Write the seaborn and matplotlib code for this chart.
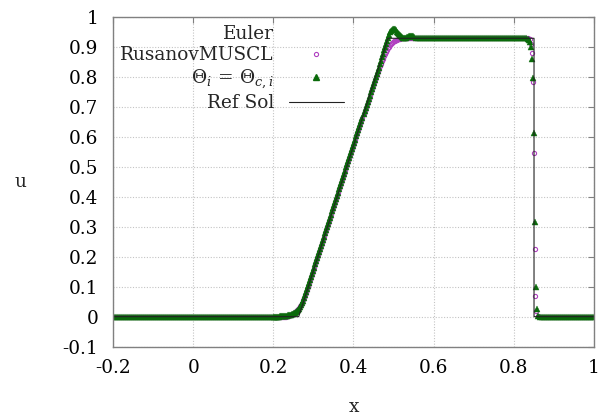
import numpy as np
import pandas as pd
import matplotlib
matplotlib.use("Agg")
import matplotlib.pyplot as plt
from matplotlib.lines import Line2D
import seaborn as sns

# Sod shock tube, velocity u(x) at t = 0.2
# mesh pieces (cell centres) used for the numerical solutions
x_left = np.linspace(-0.2, 0.2, 81)        # step 0.005
x_ramp = np.linspace(0.2025, 0.55, 140)    # step 0.0025
x_plateau = np.linspace(0.555, 0.83, 56)   # step 0.005
x_right = np.linspace(0.865, 1.0, 28)

# u on the left constant state
u_left_state = [0.0] * 81

# rarefaction + head of plateau (0.2025 .. 0.55)
theta_ramp = [0.000, 0.000, 0.000, 0.000, 0.000, 0.000, 0.001, 0.001, 0.001, 0.001,
              0.002, 0.002, 0.003, 0.003, 0.004, 0.004, 0.005, 0.006, 0.008, 0.009,
              0.011, 0.013, 0.016, 0.019, 0.023, 0.027, 0.032, 0.038, 0.045, 0.053,
              0.062, 0.071, 0.081, 0.091, 0.101, 0.112,
              0.122, 0.132, 0.143, 0.153, 0.163, 0.174, 0.184, 0.195, 0.205, 0.215,
              0.226, 0.236, 0.247, 0.257, 0.267, 0.278, 0.288, 0.299, 0.309, 0.320,
              0.330, 0.340, 0.351, 0.361, 0.372, 0.382, 0.392, 0.403, 0.413, 0.424,
              0.434, 0.445, 0.455, 0.465, 0.476, 0.486, 0.497, 0.507, 0.517, 0.528,
              0.538, 0.549, 0.559, 0.570, 0.580, 0.590, 0.601, 0.611, 0.622, 0.632,
              0.642, 0.653, 0.663, 0.674, 0.684, 0.695, 0.705, 0.715, 0.726, 0.736,
              0.747, 0.757, 0.767, 0.778, 0.788, 0.799, 0.809, 0.820, 0.830,
              0.842, 0.853, 0.864, 0.876, 0.887, 0.898, 0.909, 0.920, 0.930, 0.939,
              0.947, 0.952, 0.956, 0.958, 0.958, 0.957, 0.954, 0.950, 0.946, 0.941,
              0.937, 0.934, 0.931, 0.930, 0.929, 0.929, 0.930, 0.931, 0.933, 0.934,
              0.935, 0.935, 0.935, 0.934, 0.933]
rus_ramp = [0.000, 0.000, 0.000, -0.001, -0.001, -0.001, -0.002, -0.002, -0.002, -0.002,
            -0.002, -0.001, -0.001, 0.001, 0.002, 0.003, 0.004, 0.006, 0.008, 0.010,
            0.012, 0.015, 0.018, 0.021, 0.025, 0.029, 0.034, 0.040, 0.047, 0.054,
            0.062, 0.071, 0.080, 0.090, 0.100, 0.110,
            0.122, 0.132, 0.143, 0.153, 0.163, 0.174, 0.184, 0.195, 0.205, 0.215,
            0.226, 0.236, 0.247, 0.257, 0.267, 0.278, 0.288, 0.299, 0.309, 0.320,
            0.330, 0.340, 0.351, 0.361, 0.372, 0.382, 0.392, 0.403, 0.413, 0.424,
            0.434, 0.445, 0.455, 0.465, 0.476, 0.486, 0.497, 0.507, 0.517, 0.528,
            0.538, 0.549, 0.559, 0.570, 0.580, 0.590, 0.601, 0.611, 0.622, 0.632,
            0.642, 0.653, 0.663, 0.674, 0.684, 0.695, 0.705, 0.715, 0.726, 0.736,
            0.747, 0.757, 0.767, 0.777, 0.787, 0.797, 0.806, 0.815, 0.824,
            0.834, 0.842, 0.851, 0.859, 0.867, 0.874, 0.881, 0.888, 0.894, 0.899,
            0.904, 0.908, 0.912, 0.915, 0.918, 0.920, 0.922, 0.923, 0.924, 0.925,
            0.926, 0.927, 0.927, 0.928, 0.928, 0.928, 0.928, 0.928, 0.928, 0.928,
            0.928, 0.928, 0.928, 0.928, 0.928]

# plateau (0.555 .. 0.83)
u_plateau = [0.928] * 56

# shock region
theta_shock_x = [0.835, 0.838, 0.840, 0.842, 0.845, 0.848, 0.851, 0.853, 0.855, 0.857, 0.860]
theta_shock_u = [0.926, 0.922, 0.915, 0.897, 0.860, 0.794, 0.611, 0.314, 0.100, 0.025, 0.003]
rus_shock_x = [0.835, 0.840, 0.843, 0.845, 0.847, 0.851, 0.852, 0.854, 0.856, 0.860]
rus_shock_u = [0.928, 0.924, 0.910, 0.877, 0.782, 0.546, 0.225, 0.068, 0.020, 0.002]

# right constant state
u_right_state = [0.0] * 28

# exact solution
ref_x = [-0.2, 0.2633, 0.4859, 0.8504, 0.8504, 1.0]
ref_u = [0.0, 0.0, 0.9274, 0.9274, 0.0, 0.0]


def build(ramp, sx, su):
    x = np.concatenate([x_left, x_ramp, x_plateau, sx, x_right])
    u = np.concatenate([u_left_state, ramp, u_plateau, su, u_right_state])
    return pd.DataFrame({"x": x, "u": u})


rus_df = build(rus_ramp, rus_shock_x, rus_shock_u)
theta_df = build(theta_ramp, theta_shock_x, theta_shock_u)
ref_df = pd.DataFrame({"x": ref_x, "u": ref_u})

sns.set_style("white")
plt.rcParams["font.family"] = ["DejaVu Serif"]
plt.rcParams["mathtext.fontset"] = "dejavuserif"
plt.rcParams["axes.unicode_minus"] = False
FS = 13.3

PURPLE = "#b040c0"
GREEN = "#0a6a0a"

fig = plt.figure(figsize=(6.14, 4.19), dpi=100)
ax = fig.add_axes([0.184, 0.1726, 0.7834, 0.788])

sns.lineplot(data=rus_df, x="x", y="u", ax=ax, estimator=None, sort=False,
             linestyle="", marker="o", markersize=3, mfc="none", mec=PURPLE,
             mew=0.8, legend=False)
sns.lineplot(data=theta_df, x="x", y="u", ax=ax, estimator=None, sort=False,
             linestyle="", marker="^", markersize=4, color=GREEN, mec=GREEN,
             mew=0.3, legend=False)
sns.lineplot(data=ref_df, x="x", y="u", ax=ax, estimator=None, sort=False,
             color="#222222", linewidth=0.8, legend=False)

ax.set_xlim(-0.2, 1.0)
ax.set_ylim(-0.1, 1.0)
xt = [-0.2, 0, 0.2, 0.4, 0.6, 0.8, 1]
yt = [-0.1, 0, 0.1, 0.2, 0.3, 0.4, 0.5, 0.6, 0.7, 0.8, 0.9, 1]
ax.set_xticks(xt)
ax.set_xticklabels([f"{v:g}" for v in xt])
ax.set_yticks(yt)
ax.set_yticklabels([f"{v:g}" for v in yt])

ax.grid(True, linestyle=(0, (1, 1.5)), color="#c4c4c4", linewidth=0.8)
for s in ax.spines.values():
    s.set_color("#808080")
    s.set_linewidth(1.0)
ax.tick_params(axis="both", direction="in", top=True, right=True, length=4.5,
               width=0.8, color="#808080", labelsize=FS, labelcolor="black")
ax.tick_params(axis="x", pad=9)
ax.tick_params(axis="y", pad=10.5)

ax.set_xlabel("x", fontsize=FS)
ax.xaxis.set_label_coords(0.5, -0.155)
ax.set_ylabel("u", fontsize=FS, rotation=0, va="center", ha="center")
ax.yaxis.set_label_coords(-0.193, 0.5)

handles = [
    Line2D([], [], linestyle="", marker=""),
    Line2D([], [], linestyle="", marker="o", markersize=3, mfc="none", mec=PURPLE, mew=0.8),
    Line2D([], [], linestyle="", marker="^", markersize=4, color=GREEN),
    Line2D([], [], color="#222222", linewidth=0.8),
]
labels = ["Euler", "RusanovMUSCL", r"$\Theta_i\,=\,\Theta_{c,i}$", "Ref Sol"]
ax.legend(handles, labels, loc="upper left", bbox_to_anchor=(0.015, 0.975),
          frameon=False, markerfirst=False, fontsize=FS, handlelength=3.0,
          handletextpad=0.8, labelspacing=0.18, borderpad=0, borderaxespad=0)

fig.savefig("out.png", dpi=100)
